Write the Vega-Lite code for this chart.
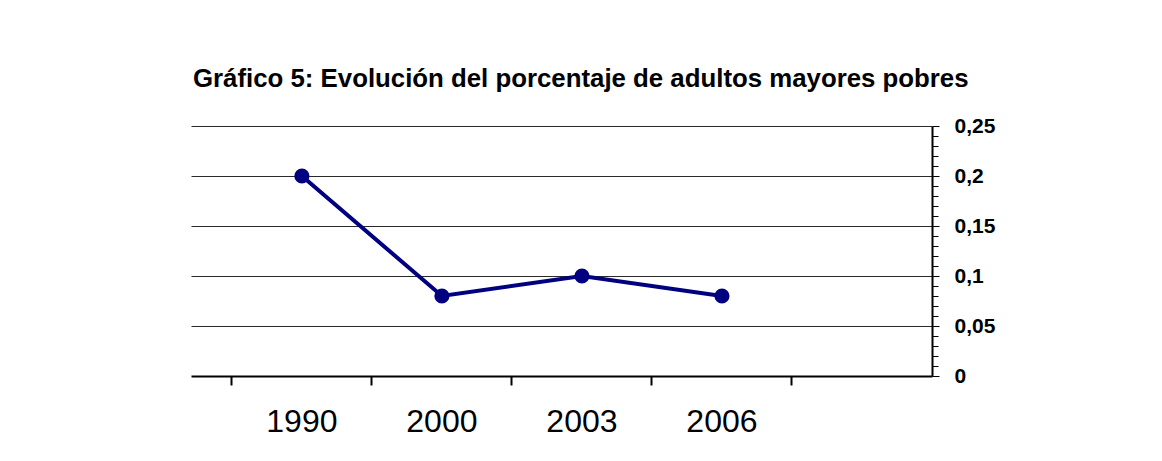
{
  "$schema": "https://vega.github.io/schema/vega-lite/v6.json",
  "width": 741,
  "height": 250,
  "autosize": {"type": "none"},
  "padding": {"left": 191, "top": 126, "right": 230, "bottom": 85},
  "background": "white",
  "config": {"view": {"stroke": null}, "font": "Liberation Sans"},
  "title": {
    "text": "Gráfico 5: Evolución del porcentaje de adultos mayores pobres",
    "anchor": "start",
    "frame": "group",
    "font": "Liberation Sans",
    "fontSize": 25.8,
    "fontWeight": "bold",
    "color": "black",
    "baseline": "alphabetic",
    "offset": 2,
    "dx": 2
  },
  "data": {
    "values": [
      {"year": "1990", "value": 0.2},
      {"year": "2000", "value": 0.08},
      {"year": "2003", "value": 0.1},
      {"year": "2006", "value": 0.08}
    ]
  },
  "encoding": {
    "x": {
      "field": "year",
      "type": "ordinal",
      "scale": {"type": "band", "domain": ["1990", "2000", "2003", "2006", ""], "paddingInner": 0, "paddingOuter": 0.146, "align": 1},
      "axis": {
        "title": null,
        "bandPosition": 0,
        "labelOffset": 0,
        "labelAngle": 0,
        "labelFontSize": 32,
        "labelFont": "Liberation Sans",
        "labelColor": "black",
        "labelPadding": 21,
        "tickSize": 9,
        "tickWidth": 2,
        "tickColor": "black",
        "domainColor": "black",
        "domainWidth": 2,
        "grid": false
      }
    },
    "y": {
      "field": "value",
      "type": "quantitative",
      "scale": {"domain": [0, 0.25], "nice": false},
      "axis": {
        "title": null,
        "orient": "right",
        "values": [0, 0.01, 0.02, 0.03, 0.04, 0.05, 0.06, 0.07, 0.08, 0.09, 0.1, 0.11, 0.12, 0.13, 0.14, 0.15, 0.16, 0.17, 0.18, 0.19, 0.2, 0.21, 0.22, 0.23, 0.24, 0.25],
        "labelExpr": "round(datum.value*100) % 5 === 0 ? replace(toString(round(datum.value*100)/100), '.', ',') : ''",
        "labelFontSize": 21,
        "labelFontWeight": "bold",
        "labelFont": "Liberation Sans",
        "labelColor": "black",
        "labelPadding": 15,
        "labelAlign": "left",
        "labelBaseline": "middle",
        "tickColor": "black",
        "tickSize": {"condition": {"test": "round(datum.value*100) % 5 === 0", "value": 7}, "value": 6},
        "tickWidth": 1,
        "domainColor": "black",
        "domainWidth": 2,
        "grid": true,
        "gridColor": "#2a2a2a",
        "gridWidth": 1.2,
        "gridOpacity": {"condition": {"test": "round(datum.value*100) % 5 === 0 && datum.value > 0", "value": 1}, "value": 0}
      }
    }
  },
  "layer": [
    {"mark": {"type": "line", "color": "#000080", "strokeWidth": 4}},
    {"mark": {"type": "point", "filled": true, "color": "#000080", "opacity": 1, "size": 230}}
  ]
}
